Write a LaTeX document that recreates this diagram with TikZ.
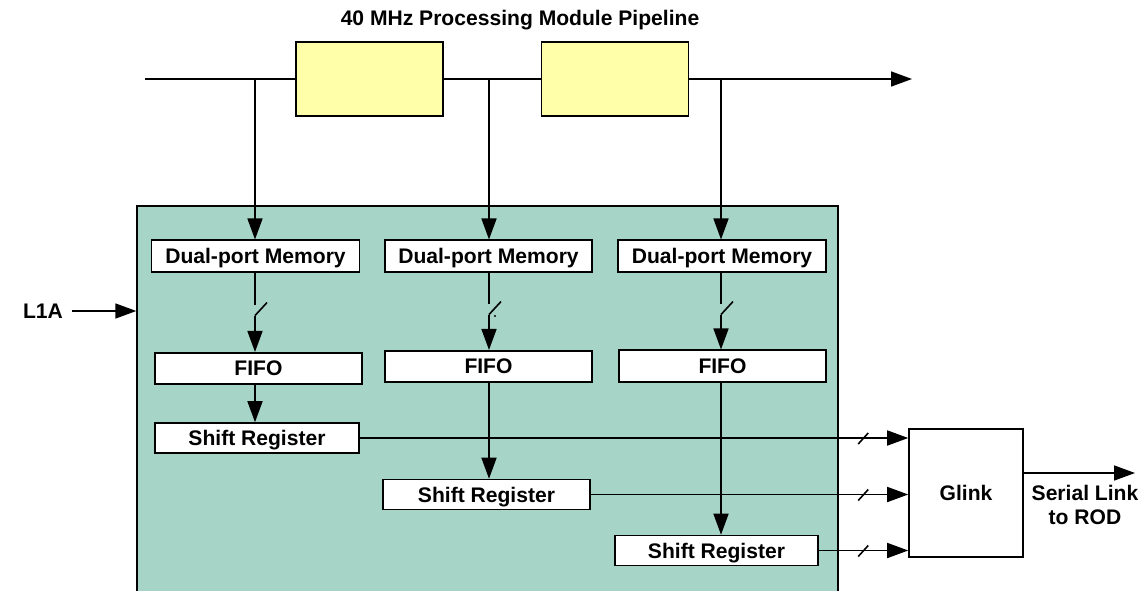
\documentclass[tikz,border=0pt]{standalone}
\usepackage{fontspec}
\setmainfont{Liberation Sans}
\usetikzlibrary{arrows.meta,calc}

\definecolor{boardgreen}{RGB}{166,212,199}
\definecolor{stageyellow}{RGB}{255,255,170}

\begin{document}
\begin{tikzpicture}[x=0.02cm,y=-0.02cm,
    line width=0.9pt,
    >={Triangle[length=0.42cm,width=0.3cm]},
    every node/.style={font=\fontsize{12}{13.6}\selectfont\bfseries},
    blockbox/.style={draw,fill=white,inner sep=0pt,text depth=0pt,minimum height=0.63cm},
    stagebox/.style={draw,fill=stageyellow,minimum width=2.94cm,minimum height=1.48cm}
]

% Frame of the picture
\clip (0,0) rectangle (1145,591);

% Readout board
\node[draw,fill=boardgreen,minimum width=14.02cm,minimum height=7.9cm] (board) at (487.5,403.5) {};

% Title
\node (title) at (520,20) {40 MHz Processing Module Pipeline};

% Pipeline stages
\node[stagebox] (stage1) at (369.5,79) {};
\node[stagebox] (stage2) at (615,79) {};
\coordinate (pin) at (145,79);
\coordinate (pout) at (912,79);
\draw (pin) -- (stage1.west);
\draw (stage1.east) -- (stage2.west);
\draw[->] (stage2.east) -- (pout);

% Taps on the pipeline
\coordinate (tap1) at (255,79);
\coordinate (tap2) at (489,79);
\coordinate (tap3) at (721,79);

% Memories
\node[blockbox,minimum width=4.16cm] (mem1) at (255.5,256) {Dual-port Memory};
\node[blockbox,minimum width=4.14cm] (mem2) at (488.5,256) {Dual-port Memory};
\node[blockbox,minimum width=4.16cm] (mem3) at (722,256) {Dual-port Memory};
\draw[->] (tap1) -- (mem1.north -| tap1);
\draw[->] (tap2) -- (mem2.north -| tap2);
\draw[->] (tap3) -- (mem3.north -| tap3);

% FIFOs
\node[blockbox,minimum width=4.14cm] (fifo1) at (258.5,368.5) {FIFO};
\node[blockbox,minimum width=4.14cm] (fifo2) at (488.5,366.5) {FIFO};
\node[blockbox,minimum width=4.14cm] (fifo3) at (722.5,366) {FIFO};

% Switches between memory and FIFO
\draw (mem1.south -| tap1) -- ++(0,32);
\draw ($(mem1.south -| tap1)+(0,43)$) -- ++(12,-13);
\draw[->] ($(mem1.south -| tap1)+(0,43)$) -- (fifo1.north -| tap1);
\draw (mem2.south -| tap2) -- ++(0,31);
\draw ($(mem2.south -| tap2)+(0,42)$) -- ++(12,-13);
\draw[->] ($(mem2.south -| tap2)+(0,42)$) -- (fifo2.north -| tap2);
\fill (495,316) circle (0.6pt);
\draw (mem3.south -| tap3) -- ++(0,31);
\draw ($(mem3.south -| tap3)+(0,42)$) -- ++(12,-13);
\draw[->] ($(mem3.south -| tap3)+(0,42)$) -- (fifo3.north -| tap3);

% Shift registers
\node[blockbox,minimum width=4.08cm,minimum height=0.6cm] (sr1) at (257,438) {Shift Register};
\node[blockbox,minimum width=4.14cm,minimum height=0.6cm] (sr2) at (486.5,494.5) {Shift Register};
\node[blockbox,minimum width=4.06cm,minimum height=0.6cm] (sr3) at (716.5,550.5) {Shift Register};
\draw[->] (fifo1.south -| tap1) -- (sr1.north -| tap1);
\draw[->] (fifo2.south -| tap2) -- (sr2.north -| tap2);
\draw[->] (fifo3.south -| tap3) -- (sr3.north -| tap3);

% Glink
\node[draw,fill=white,minimum width=2.28cm,minimum height=2.56cm] (glink) at (966,493) {Glink};
\draw[->] (sr1.east) -- (sr1.east -| glink.west);
\draw ($(sr1.east -| glink.west)+(-50,6)$) -- ++(10,-11);
\draw[->] (sr2.east) -- (sr2.east -| glink.west);
\draw ($(sr2.east -| glink.west)+(-50,6)$) -- ++(10,-11);
\draw[->] (sr3.east) -- (sr3.east -| glink.west);
\draw ($(sr3.east -| glink.west)+(-50,6)$) -- ++(10,-11);

% Serial link
\coordinate (rod) at (1135,473);
\draw[->] (rod -| glink.east) -- (rod);
\node[align=center] (link) at (1085,505) {Serial Link\\to ROD};

% L1A input
\node (l1a) at (43,311) {L1A};
\draw[->] (l1a.east) ++(2,0) -- (l1a -| board.west);

\end{tikzpicture}
\end{document}
